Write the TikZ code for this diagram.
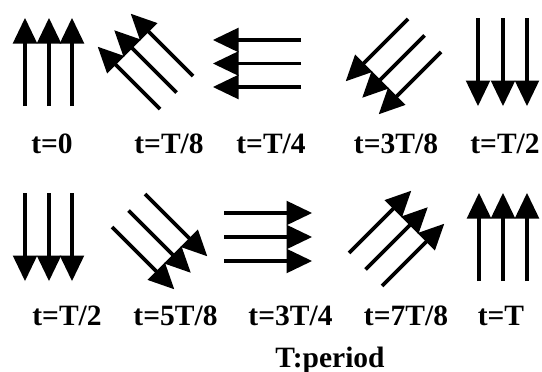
\documentclass[tikz,border=0pt]{standalone}
\usepackage{fontspec}
\setmainfont{Liberation Serif}
\tikzset{
  % one field vector: shaft plus a filled triangular head, pointing along +x
  vecpic/.pic={
    \draw[line width=3.6pt] (0,0) -- (64,0);
    \fill (88,0) -- (62.5,-12.3) -- (62.5,12.3) -- cycle;
  },
  lbl/.style={anchor=base, inner sep=0pt, font=\fontsize{29.5}{32}\selectfont\bfseries}
}
\begin{document}
\begin{tikzpicture}[x=1pt,y=-1pt]
\useasboundingbox (0,0) rectangle (542,372);
% first row: t = 0 ... T/2
\foreach \x in {25,49,72} \path (\x,106) pic[rotate=90] {vecpic};
\foreach \a in {0,16.5,33} \path (160+\a,109-\a) pic[rotate=135] {vecpic};
\foreach \y in {40,63.5,87} \path (301,\y) pic[rotate=180] {vecpic};
\foreach \a in {0,16.5,33} \path (408+\a,19+\a) pic[rotate=225] {vecpic};
\foreach \x in {478,503,527} \path (\x,18) pic[rotate=270] {vecpic};
\node[lbl] (l1) at (52,153) {t=0};
\node[lbl] (l2) at (169,153) {t=T/8};
\node[lbl] (l3) at (271,153) {t=T/4};
\node[lbl] (l4) at (396,153) {t=3T/8};
\node[lbl] (l5) at (505,153) {t=T/2};
% second row: t = T/2 ... T
\foreach \x in {25,49,72} \path (\x,193) pic[rotate=270] {vecpic};
\foreach \a in {0,16.5,33} \path (112+\a,227-\a) pic[rotate=315] {vecpic};
\foreach \y in {213,237,261} \path (224,\y) pic[rotate=0] {vecpic};
\foreach \a in {0,16.5,33} \path (349+\a,253+\a) pic[rotate=45] {vecpic};
\foreach \x in {479,503,527} \path (\x,281) pic[rotate=90] {vecpic};
\node[lbl] (m1) at (67,325) {t=T/2};
\node[lbl] (m2) at (175.5,325) {t=5T/8};
\node[lbl] (m3) at (290.5,325) {t=3T/4};
\node[lbl] (m4) at (406,325) {t=7T/8};
\node[lbl] (m5) at (501,325) {t=T};
\node[lbl] (per) at (330,367) {T:period};
\end{tikzpicture}
\end{document}
